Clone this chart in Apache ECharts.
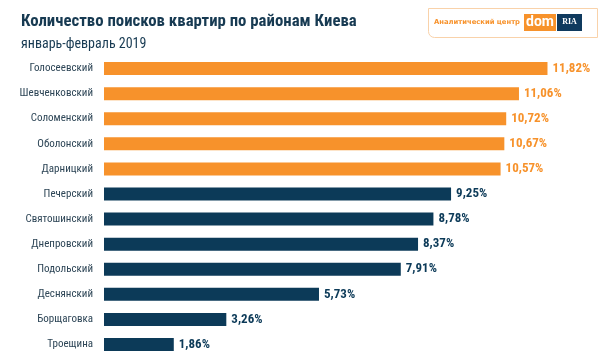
<!DOCTYPE html>
<html><head><meta charset="utf-8">
<script src="https://cdn.jsdelivr.net/npm/echarts@6/dist/echarts.min.js"></script>
<style>html,body{margin:0;padding:0;background:#fff}#c{width:602px;height:362px}</style>
</head><body><div id="c"></div>
<script>
const categories = ["Голосеевский","Шевченковский","Соломенский","Оболонский","Дарницкий","Печерский","Святошинский","Днепровский","Подольский","Деснянский","Борщаговка","Троещина"];
const values = [11.82,11.06,10.72,10.67,10.57,9.25,8.78,8.37,7.91,5.73,3.26,1.86];
const highlighted = [true,true,true,true,true,false,false,false,false,false,false,false];
const titleText = "Количество поисков квартир по районам Киева";
const subtitleText = "январь-февраль 2019";
const ORANGE = "#f7922b", NAVY = "#0c3a58";
const COND = '"Roboto Condensed", Roboto, sans-serif';

const chart = echarts.init(document.getElementById('c'), null, {renderer:'canvas'});
chart.setOption({
  animation:false,
  backgroundColor:'#fff',
  title:{
    text:titleText, subtext:subtitleText, left:16, top:8, itemGap:7,
    textStyle:{fontFamily:COND,fontWeight:'bold',fontSize:16.8,color:'#173a52'},
    subtextStyle:{fontFamily:COND,fontSize:14,color:'#173a52'}
  },
  grid:{left:104,top:56,width:469,height:301,containLabel:false},
  xAxis:{type:'value',min:0,max:12.5,show:false},
  yAxis:{type:'category',data:categories,inverse:true,
    axisLine:{show:false},axisTick:{show:false},
    axisLabel:{margin:11,fontSize:11,color:'#2d4556',fontFamily:COND}},
  series:[{
    type:'bar',barWidth:13,
    data:values.map((v,i)=>({value:v,itemStyle:{color:highlighted[i]?ORANGE:NAVY},
      label:{color:highlighted[i]?ORANGE:NAVY}})),
    label:{show:true,position:'right',distance:5,fontWeight:'bold',fontSize:13,
      fontFamily:COND,
      formatter:p=>p.value.toFixed(2).replace('.',',')+'%'}
  }],
  graphic:[
    {type:'rect',shape:{x:428.5,y:8.5,width:169,height:29,r:[0,0,0,6]},style:{fill:'#fff',stroke:'#f9d2aa',lineWidth:1}},
    {type:'text',x:434,y:22.5,style:{text:'Аналитический центр',fill:ORANGE,font:'bold 6.8px "DejaVu Sans"',verticalAlign:'middle'}},
    {type:'rect',shape:{x:524,y:14,width:32,height:17},style:{fill:ORANGE}},
    {type:'text',x:540,y:22.5,style:{text:'dom',fill:'#fff',font:'bold 14px Roboto',align:'center',verticalAlign:'middle'}},
    {type:'rect',shape:{x:557,y:14,width:25,height:17},style:{fill:'#0f3a5e'}},
    {type:'text',x:569.5,y:21.5,style:{text:'RIA',fill:'#fff',font:'bold 8px "Liberation Serif"',align:'center',verticalAlign:'middle'}}
  ]
});
</script></body></html>
